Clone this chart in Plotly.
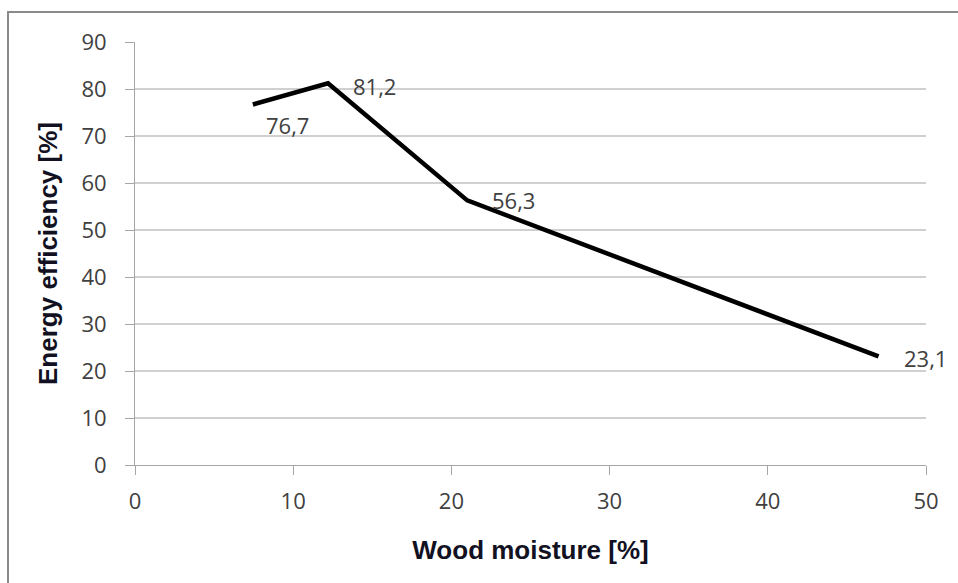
import plotly.graph_objects as go

moisture = [7.45, 12.2, 21.0, 47.0]
efficiency = [76.7, 81.2, 56.3, 23.1]
labels = ["76,7", "81,2", "56,3", "23,1"]
x_ticks = [0, 10, 20, 30, 40, 50]
y_ticks = [0, 10, 20, 30, 40, 50, 60, 70, 80, 90]

W, H = 958, 583
L, R, T, B = 135, 32, 42, 118
pw, ph = W - L - R, H - T - B

fig = go.Figure()
fig.add_trace(go.Scatter(x=moisture, y=efficiency, mode="lines",
                         line=dict(color="black", width=4.5), hoverinfo="skip"))

label_shift = [(35, -20), (46, -3), (46, 0), (47, -2)]
for xv, yv, t, (dx, dy) in zip(moisture, efficiency, labels, label_shift):
    fig.add_annotation(x=xv, y=yv, text=t, showarrow=False, xshift=dx, yshift=dy,
                       font=dict(family="Open Sans", size=22, color="#404040"))

def px(xp):
    return (xp - L) / pw

def py(yp):
    return (H - B - yp) / ph

fig.add_shape(type="rect", xref="paper", yref="paper",
              x0=px(8), y0=py(700), x1=px(1100), y1=py(12),
              line=dict(color="#8a8a8a", width=2), layer="below")

axis_common = dict(showline=True, linecolor="#a6a6a6", linewidth=1,
                   ticks="outside", ticklen=9, tickcolor="#a6a6a6",
                   tickfont=dict(family="Open Sans", size=22, color="#404040"),
                   zeroline=False)

fig.update_xaxes(range=[0, 50], tickvals=x_ticks, showgrid=False,
                 ticklabelstandoff=8,
                 title=dict(text="<b>Wood moisture [%]</b>", standoff=26,
                            font=dict(family="Liberation Sans", size=26, color="#111122")),
                 **axis_common)
fig.update_yaxes(range=[0, 90], tickvals=y_ticks, showgrid=True,
                 gridcolor="#d0d0d0", gridwidth=1.5,
                 ticklabelstandoff=14,
                 title=dict(text="<b>Energy efficiency [%]</b>", standoff=16,
                            font=dict(family="Liberation Sans", size=26, color="#111122")),
                 **axis_common)

fig.update_layout(width=W, height=H, margin=dict(l=L, r=R, t=T, b=B, autoexpand=False),
                  plot_bgcolor="white", paper_bgcolor="white", showlegend=False)

fig.write_html("out.html")
